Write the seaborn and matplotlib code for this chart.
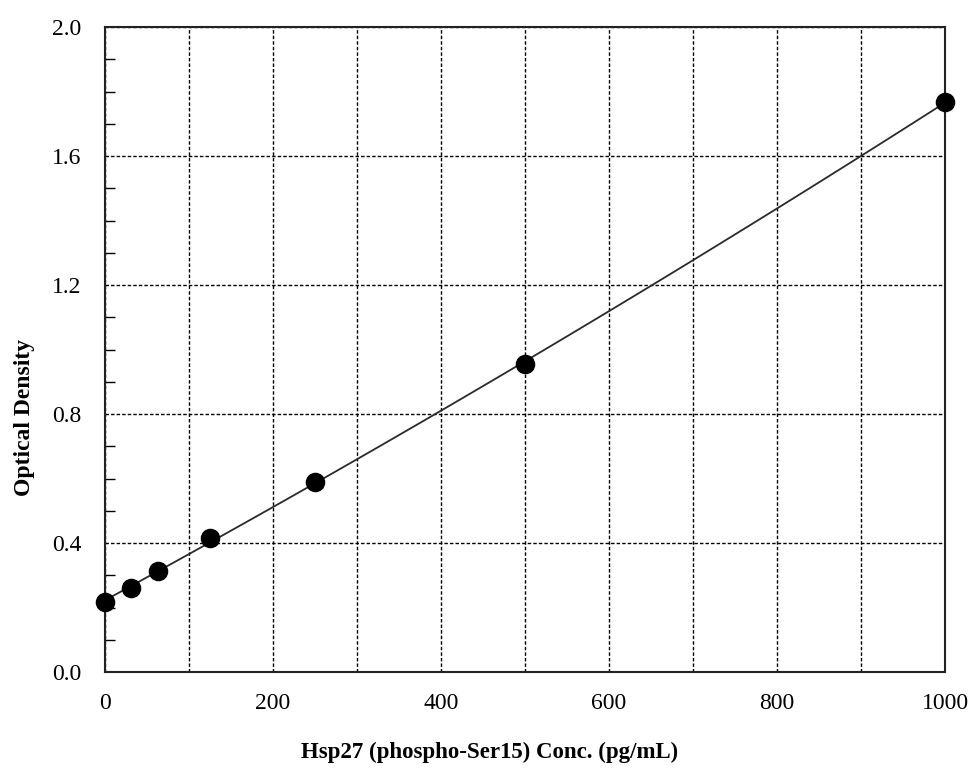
import matplotlib
matplotlib.use("Agg")
import matplotlib.pyplot as plt
import seaborn as sns
import numpy as np
import pandas as pd
from matplotlib.ticker import MultipleLocator

conc = [0, 31.25, 62.5, 125, 250, 500, 1000]
od = [0.217, 0.260, 0.313, 0.416, 0.589, 0.955, 1.767]
x_ticks = [0, 200, 400, 600, 800, 1000]
y_ticks = [0.0, 0.4, 0.8, 1.2, 1.6, 2.0]
x_label = "Hsp27 (phospho-Ser15) Conc. (pg/mL)"
y_label = "Optical Density"

sns.set_theme(style="white")
plt.rcParams['font.family'] = ['Liberation Serif', 'DejaVu Serif']

df = pd.DataFrame({"conc": conc, "od": od})

W, H = 975, 769
fig = plt.figure(figsize=(9.75, 7.69), dpi=100)
L, T, R, B = 105, 27, 945, 672
ax = fig.add_axes([L/W, 1-B/H, (R-L)/W, (B-T)/H])

sns.regplot(data=df, x="conc", y="od", order=2, ci=None, truncate=True,
            scatter=False, ax=ax, line_kws=dict(color="#2a2a2a", lw=1.3))
sns.scatterplot(data=df, x="conc", y="od", ax=ax, color="black", s=170,
                edgecolor="black", zorder=5, clip_on=False)

ax.set_xlim(0, 1000)
ax.set_ylim(0, 2.0)
ax.set_xticks(x_ticks)
ax.set_yticks(y_ticks)
ax.set_xticklabels([f"{v:d}" for v in x_ticks])
ax.set_yticklabels([f"{v:.1f}" for v in y_ticks])
ax.xaxis.set_minor_locator(MultipleLocator(100))
ax.yaxis.set_minor_locator(MultipleLocator(0.1))

ax.grid(True, which="major", axis="y", color="black", linestyle=(0, (2.5, 1.5)), lw=1.0)
ax.grid(True, which="both", axis="x", color="black", linestyle=(0, (2.5, 1.5)), lw=1.0)

ax.tick_params(axis="both", which="major", labelsize=17, length=0, colors="black")
ax.tick_params(axis="y", which="major", pad=17)
ax.tick_params(axis="x", which="major", pad=15)
ax.tick_params(axis="y", which="minor", direction="in", length=7, width=1, left=True, color="black")
ax.tick_params(axis="x", which="minor", length=0)

for s in ax.spines.values():
    s.set_visible(True)
    s.set_color("#222222")
    s.set_linewidth(1.5)

ax.set_xlabel(x_label, fontsize=16.5, fontweight="bold", color="black",
              ha="center", va="center")
ax.set_ylabel(y_label, fontsize=17, fontweight="bold", color="black",
              ha="center", va="center")
# label centres in pixels, converted to axes fractions
ax.xaxis.set_label_coords((490 - L) / (R - L), (B - 752) / (B - T))
ax.yaxis.set_label_coords((25 - L) / (R - L), (B - 417) / (B - T))

fig.savefig("out.png", dpi=100, facecolor="white")
